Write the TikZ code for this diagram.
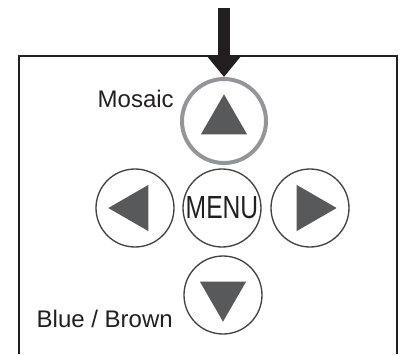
\documentclass[tikz,border=0pt]{standalone}
\usepackage{fontspec}
\setmainfont{Liberation Sans}
\usetikzlibrary{arrows.meta,shapes.geometric}
\definecolor{ink}{HTML}{231F20}
\definecolor{keygray}{HTML}{58595B}
\definecolor{ringgray}{HTML}{939598}
\tikzset{
  key/.style={circle, draw=ink!85, line width=1pt, minimum size=58.5pt, inner sep=0pt},
  keymark/.style={regular polygon, regular polygon sides=3, fill=keygray, minimum size=40pt, inner sep=0pt},
  keylabel/.style={text=ink, font=\fontsize{18}{20}\selectfont, inner sep=0pt}
}
\begin{document}
\begin{tikzpicture}[x=0.75pt, y=-0.75pt]
\useasboundingbox (0,0) rectangle (400,354);
% Panel outline (open at the bottom)
\draw[ink, line width=1.5pt] (19,354) -- (19,56) -- (397,56) -- (397,354);

% Buttons
\node[key, draw=ringgray, line width=3pt, minimum size=63pt] (up) at (224,121) {};
\node[key] (left) at (135,208) {};
\node[key, font=\fontsize{24}{26}\selectfont, text=ink] (menu) at (222,208) {\scalebox{0.77}[1]{MENU}};
\node[key] (right) at (310,208) {};
\node[key] (down) at (223,295) {};

% Arrow marks on the keys
\node[keymark] (upmark) at (up) {};
\node[keymark, shape border rotate=90] (leftmark) at (left) {};
\node[keymark, shape border rotate=-90] (rightmark) at (right) {};
\node[keymark, shape border rotate=180] (downmark) at (down) {};

% Labels
\node[keylabel, anchor=base east] (mosaic) at (174,107) {Mosaic};
\node[keylabel, anchor=base east] (bluebrown) at (173,327) {Blue / Brown};

% Press arrow
\coordinate (press) at (224,8);
\draw[ink, line width=9pt, -{Triangle[length=16pt,width=25pt]}] (press) -- (up);
\end{tikzpicture}
\end{document}
